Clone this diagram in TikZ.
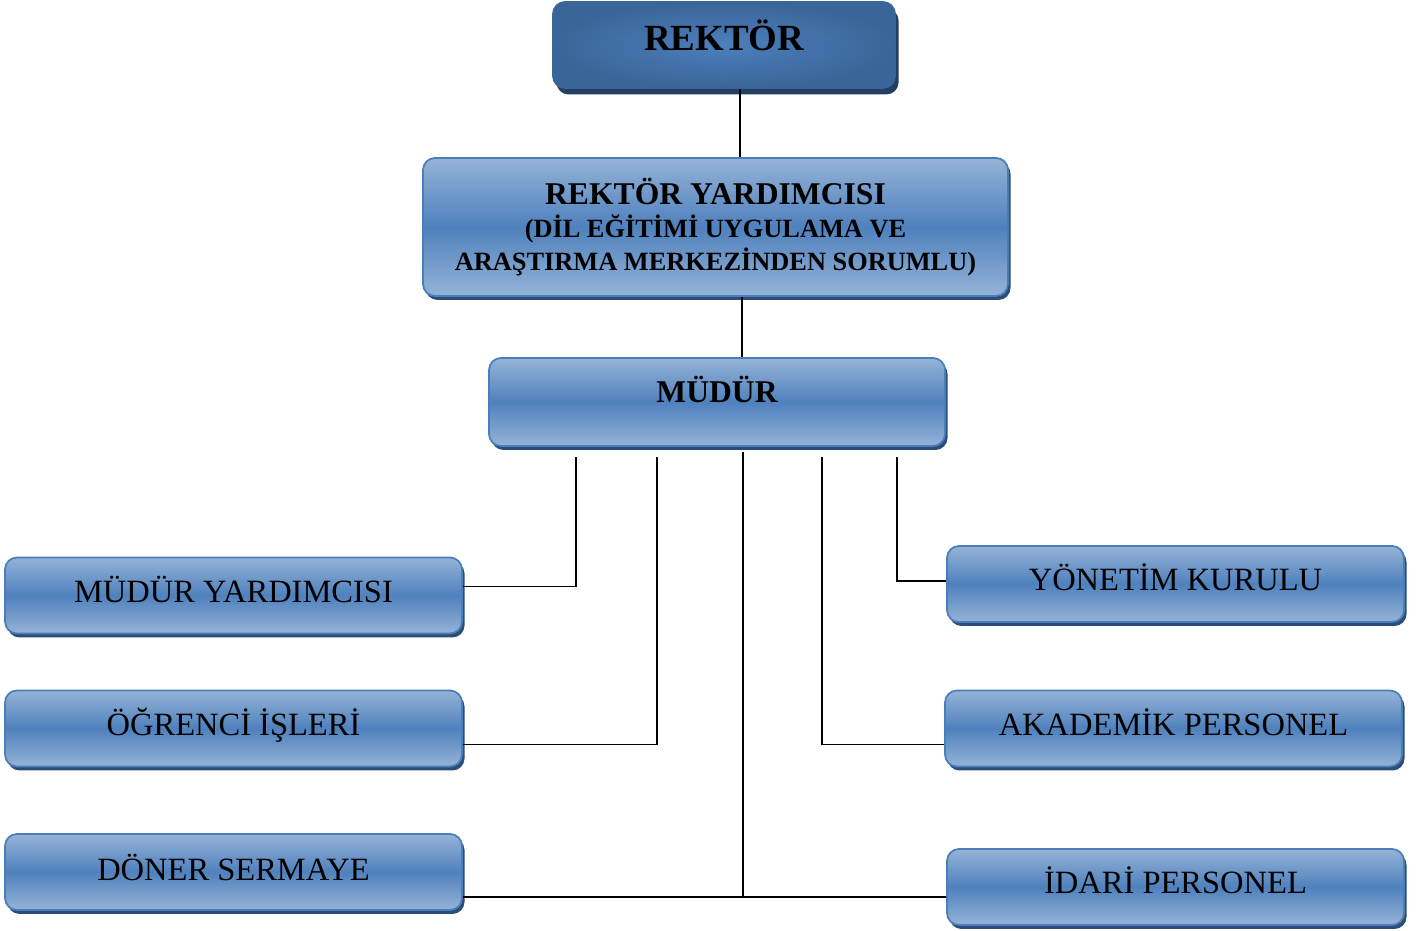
\documentclass[tikz,border=0pt]{standalone}
\usepackage{fontspec}
\setmainfont{Liberation Serif}
\usetikzlibrary{shadows}

\definecolor{boxlight}{HTML}{95B3D7}
\definecolor{boxmid}{HTML}{4F81BD}
\definecolor{boxline}{HTML}{4A7EBB}
\definecolor{boxshadow}{HTML}{2C4D76}
\definecolor{headdark}{HTML}{3A6598}
\definecolor{headlight}{HTML}{4C7FBC}
\definecolor{headshadow}{HTML}{243F62}

% raise a label inside its box without changing the box
\newcommand{\liftlabel}[2]{\raisebox{#1}[\height][\depth]{#2}}

\tikzset{
  unitbox/.style={draw=boxline,line width=1pt,rounded corners=0.24cm,
    top color=boxlight,bottom color=boxlight,middle color=boxmid,
    drop shadow={shadow xshift=0.05cm,shadow yshift=-0.08cm,fill=boxshadow,opacity=1},
    align=center,inner sep=0pt},
  headbox/.style={draw=headdark,line width=1pt,rounded corners=0.24cm,
    inner color=headlight,outer color=headdark,
    drop shadow={shadow xshift=0.07cm,shadow yshift=-0.13cm,fill=headshadow,opacity=1},
    align=center,inner sep=0pt},
  sidebox/.style={unitbox,minimum width=9.14cm,minimum height=1.52cm,
    font=\fontsize{18.5}{22}\selectfont},
  link/.style={line width=0.9pt,black}
}

\begin{document}
\begin{tikzpicture}
\useasboundingbox (0,0) rectangle (28.54,18.62);
% top of the chart
\node[headbox,minimum width=6.84cm,minimum height=1.72cm,
  font=\fontsize{21}{25}\selectfont\bfseries] (rektor) at (14.48,17.72) {\liftlabel{0.2cm}{REKTÖR}};
\node[unitbox,minimum width=11.7cm,minimum height=2.76cm,
  font=\fontsize{15}{18.8}\selectfont\bfseries] (ry) at (14.31,14.08)
  {{\fontsize{18}{18.8}\selectfont REKTÖR YARDIMCISI}\\
   (DİL EĞİTİMİ UYGULAMA VE\\
   ARAŞTIRMA MERKEZİNDEN SORUMLU)};
\node[unitbox,minimum width=9.12cm,minimum height=1.76cm,
  font=\fontsize{18}{22}\selectfont\bfseries] (mudur) at (14.34,10.58) {\liftlabel{0.26cm}{MÜDÜR}};
% left column
\node[sidebox] (my) at (4.67,6.71) {\liftlabel{0.12cm}{MÜDÜR YARDIMCISI}};
\node[sidebox] (oi) at (4.67,4.05) {\liftlabel{0.07cm}{ÖĞRENCİ İŞLERİ}};
\node[sidebox] (ds) at (4.67,1.18) {\liftlabel{0.1cm}{DÖNER SERMAYE}};
% right column
\node[sidebox] (yk) at (23.51,6.94) {\liftlabel{0.14cm}{YÖNETİM KURULU}};
\node[sidebox] (ap) at (23.47,4.05) {\liftlabel{0.12cm}{AKADEMİK PERSONEL}};
\node[sidebox] (ip) at (23.51,0.88) {\liftlabel{0.14cm}{İDARİ PERSONEL}};

% branch tops under the director
\coordinate (t1) at (11.52,9.48);
\coordinate (t2) at (13.14,9.48);
\coordinate (t3) at (14.86,9.58);
\coordinate (t4) at (16.44,9.48);
\coordinate (t5) at (17.94,9.48);

\draw[link] ([xshift=0.32cm]rektor.south) -- ([xshift=0.32cm]rektor.south |- ry.north);
\draw[link] ([xshift=0.53cm]ry.south) -- ([xshift=0.53cm]ry.south |- mudur.north);
\draw[link] (t1) |- ([yshift=0.18cm]my.east);
\draw[link] (t2) |- ([yshift=-0.32cm]oi.east);
\draw[link] ([yshift=-0.5cm]ds.east) -| (t3);
\draw[link] ([yshift=-0.5cm]ds.east) -- ([yshift=-0.2cm]ip.west);
\draw[link] (t4) |- ([yshift=-0.32cm]ap.west);
\draw[link] (t5) |- ([yshift=0.06cm]yk.west);
\end{tikzpicture}
\end{document}
